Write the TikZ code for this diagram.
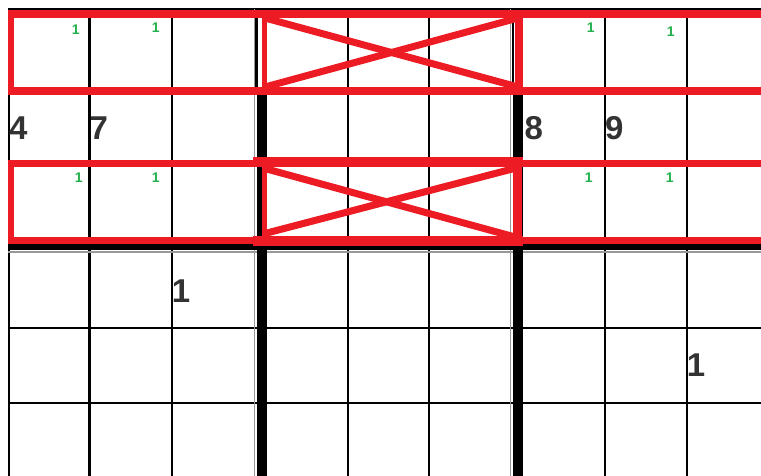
\documentclass[tikz,border=0pt]{standalone}
\usepackage{fontspec}
\setmainfont{Liberation Sans}
\definecolor{mred}{RGB}{237,28,36}
\definecolor{pgreen}{RGB}{34,177,76}
\definecolor{dgray}{RGB}{51,51,51}
\begin{document}
\begin{tikzpicture}[x=1bp,y=-1bp,
  gridline/.style={black,line width=2.2bp},
  faint/.style={black!40,line width=1.2bp},
  blockbar/.style={black,line width=10bp},
  redline/.style={mred,line width=8.5bp},
  crossline/.style={mred,line width=7bp},
  given/.style={anchor=base west,inner sep=0pt,text=dgray,font=\fontsize{33bp}{33bp}\selectfont\bfseries},
  pencil/.style={anchor=base west,inner sep=0pt,text=pgreen,font=\fontsize{14bp}{14bp}\selectfont\bfseries}]
\useasboundingbox (0,0) rectangle (761,476);
\fill[white] (0,0) rectangle (761,476);
\begin{scope}
\clip (0,0) rectangle (761,476);
% thin grid
\foreach \x in {9,89.5,171.7,347.7,429.3,605,686.7}
  \draw[gridline] (\x,8.5) -- (\x,476);
\foreach \y in {9.3,91,163.5,327.7,403.3}
  \draw[gridline] (8.3,\y) -- (761,\y);
\draw[faint] (254.5,9) -- (254.5,476);
\draw[faint] (510.6,9) -- (510.6,476);
\draw[faint] (8.3,252) -- (761,252);
\draw[gridline] (256.5,9) -- (256.5,91);
\draw[gridline] (513.3,9) -- (513.3,91);
% block borders
\draw[blockbar] (262,91) -- (262,476);
\draw[blockbar] (518,91) -- (518,476);
\draw[black,line width=7bp] (8.3,246.5) -- (761,246.5);
% red marks, row 1
\draw[redline] (8,14) -- (765,14);
\draw[redline] (8,91) -- (765,91);
\draw[mred,line width=6bp] (11,10) -- (11,95);
\draw[mred,line width=5bp] (264.5,10) -- (264.5,95);
\draw[redline] (519,10) -- (519,95);
\draw[crossline] (265,18) -- (518,87);
\draw[crossline] (265,87) -- (518,18);
% red marks, row 3
\draw[mred,line width=7.5bp] (8,163.5) -- (765,163.5);
\draw[mred,line width=7.5bp] (8,240.5) -- (765,240.5);
\draw[mred,line width=6bp] (11,160) -- (11,244);
\draw[mred,line width=10bp] (253,162.5) -- (523,162.5);
\draw[mred,line width=10bp] (253,241) -- (523,241);
\draw[mred,line width=5bp] (264.5,158) -- (264.5,246);
\draw[mred,line width=9bp] (517.5,158) -- (517.5,246);
\draw[crossline] (263,168) -- (515,237);
\draw[crossline] (263,234) -- (520,167);
\end{scope}
% given digits
\node[given] (g4) at (9,139.5) {4};
\node[given] (g7) at (89.5,139.5) {7};
\node[given] (g8) at (524.5,139.5) {8};
\node[given] (g9) at (605,139.5) {9};
\node[given] (g1a) at (171.7,303) {1};
\node[given] (g1b) at (686.7,376.5) {1};
% pencil marks
\node[pencil] (p1) at (71.6,35) {1};
\node[pencil] (p2) at (151.6,33) {1};
\node[pencil] (p3) at (586.6,33) {1};
\node[pencil] (p4) at (666.6,37) {1};
\node[pencil] (p5) at (74.6,183) {1};
\node[pencil] (p6) at (151.6,183) {1};
\node[pencil] (p7) at (584.6,183) {1};
\node[pencil] (p8) at (665.6,183) {1};
\end{tikzpicture}
\end{document}
